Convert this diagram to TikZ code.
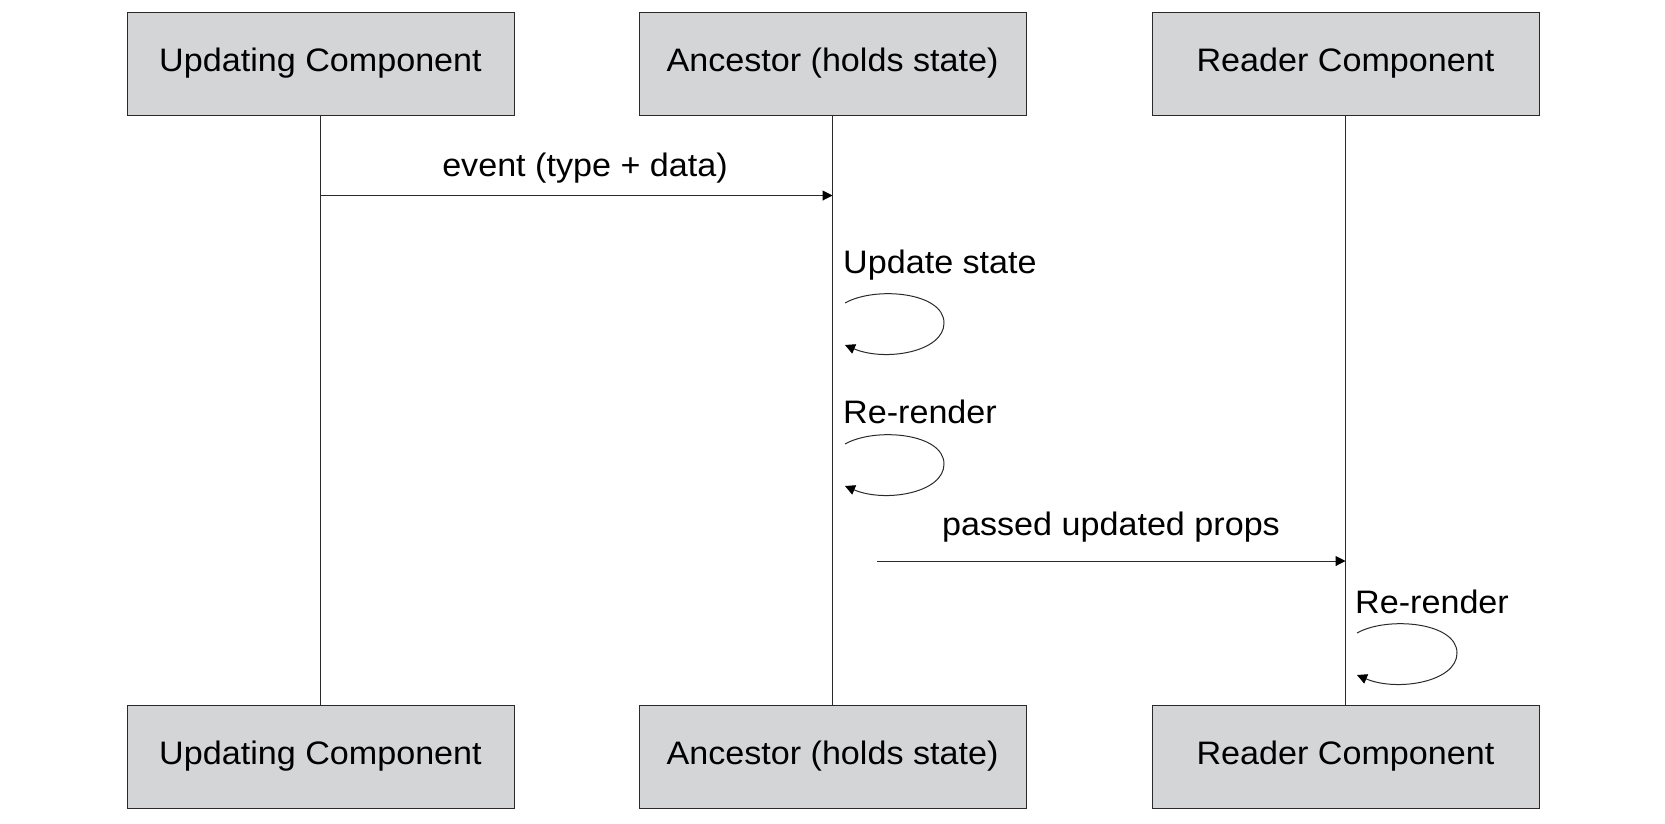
\documentclass[tikz,border=0pt]{standalone}
\usepackage{fontspec}
\setmainfont{Liberation Sans}
\newfontfamily\diafont[FakeStretch=1.05]{Liberation Sans}
\usetikzlibrary{arrows.meta}
\definecolor{boxfill}{HTML}{D4D5D7}
\definecolor{linecol}{HTML}{2A2A2A}
\tikzset{
  actor/.style={draw=linecol, fill=boxfill, line width=1pt, minimum width=387pt, minimum height=103pt, inner sep=0pt, font=\diafont\fontsize{32.5}{38}\selectfont},
  lifeline/.style={draw=linecol, line width=1pt},
  msg/.style={draw=linecol, line width=1pt, -{Triangle[length=10pt,width=10pt,color=black]}},
  msglabel/.style={anchor=base, inner sep=0pt, font=\diafont\fontsize{32.5}{38}\selectfont},
  selflabel/.style={anchor=base west, inner sep=0pt, font=\diafont\fontsize{32.5}{38}\selectfont},
}
\begin{document}
\begin{tikzpicture}[x=1pt,y=-1pt]
\useasboundingbox (0,0) rectangle (1665,823);
% actors
\node[actor] (u1) at (320.5,63.5) {Updating Component};
\node[actor] (a1) at (832.5,63.5) {Ancestor (holds state)};
\node[actor] (r1) at (1345.5,63.5) {Reader Component};
\node[actor] (u2) at (320.5,756.5) {Updating Component};
\node[actor] (a2) at (832.5,756.5) {Ancestor (holds state)};
\node[actor] (r2) at (1345.5,756.5) {Reader Component};
% lifelines
\draw[lifeline] (u1.south) -- (u2.north);
\draw[lifeline] (a1.south) -- (a2.north);
\draw[lifeline] (r1.south) -- (r2.north);
% message 1
\coordinate (m1s) at (320.5,195.5);
\coordinate (m1e) at (832.5,195.5);
\draw[msg] (m1s) -- (m1e);
\node[msglabel] (l1) at (585,176) {event (type + data)};
% self loop 1
\node[selflabel] (l2) at (843,273) {Update state};
\coordinate (s1) at (845,303);
\coordinate (s1r) at (944,323);
\coordinate (s1e) at (845,345);
\draw[msg] (s1) .. controls (875,286) and (944,292) .. (s1r) .. controls (944,352) and (885,362) .. (s1e);
% self loop 2
\node[selflabel] (l3) at (843,423) {Re-render};
\coordinate (s2) at (845,444);
\coordinate (s2r) at (944,464);
\coordinate (s2e) at (845,486);
\draw[msg] (s2) .. controls (875,427) and (944,433) .. (s2r) .. controls (944,493) and (885,503) .. (s2e);
% message 2
\coordinate (m2s) at (877,561);
\coordinate (m2e) at (1345.5,561);
\draw[msg] (m2s) -- (m2e);
\node[msglabel] (l4) at (1111,535) {passed updated props};
% self loop 3
\node[selflabel] (l5) at (1355,613) {Re-render};
\coordinate (s3) at (1357,633);
\coordinate (s3r) at (1457,653);
\coordinate (s3e) at (1357,675);
\draw[msg] (s3) .. controls (1387,616) and (1457,622) .. (s3r) .. controls (1457,682) and (1397,692) .. (s3e);
\end{tikzpicture}
\end{document}
